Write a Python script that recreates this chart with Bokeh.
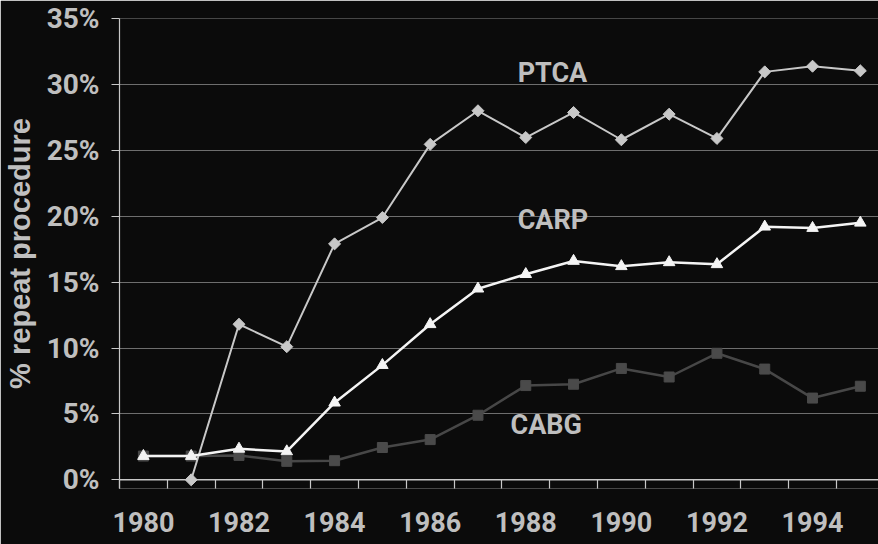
from bokeh.plotting import figure
from bokeh.models import FixedTicker, Range1d, Span, PrintfTickFormatter, ColumnDataSource
from bokeh.core.properties import value
from bokeh.embed import file_html
from bokeh.resources import INLINE

years = list(range(1980, 1996))
ptca_years = list(range(1981, 1996))
ptca = [0.0, 11.8, 10.1, 17.9, 19.9, 25.45, 28.0, 25.97, 27.87, 25.8, 27.74, 25.9, 30.95, 31.38, 31.03]
carp = [1.8, 1.8, 2.35, 2.15, 5.85, 8.7, 11.8, 14.5, 15.6, 16.6, 16.2, 16.5, 16.35, 19.2, 19.1, 19.5]
cabg = [1.8, 1.8, 1.85, 1.4, 1.45, 2.45, 3.05, 4.9, 7.15, 7.25, 8.45, 7.8, 9.6, 8.4, 6.2, 7.1]
series_labels = ["PTCA", "CARP", "CABG"]
label_x = [1987.83, 1987.83, 1987.68]
label_y = [30.83, 19.69, 4.16]
y_ticks = [0, 5, 10, 15, 20, 25, 30, 35]
x_label_years = [1980, 1982, 1984, 1986, 1988, 1990, 1992, 1994]
x_bound_ticks = [y - 0.5 for y in years]

BG = "#0b0b0b"
TXT = "#bfbfbf"
FONT = "Roboto"

p = figure(width=878, height=544, output_backend="svg", toolbar_location=None,
           x_range=Range1d(1979.5, 1995.38), y_range=Range1d(-0.66, 35),
           min_border_left=116, min_border_top=18, min_border_right=0, min_border_bottom=56,
           background_fill_color=BG, border_fill_color=BG, outline_line_color=None)

# grid
p.xgrid.visible = False
p.ygrid.ticker = FixedTicker(ticks=y_ticks[1:])
p.ygrid.grid_line_color = "#6e6e6e"
p.ygrid.grid_line_width = 1

# y axis
ya = p.yaxis[0]
ya.ticker = FixedTicker(ticks=y_ticks)
ya.formatter = PrintfTickFormatter(format="%d%%")
ya.axis_line_color = "#c8c8c8"
ya.axis_line_width = 1.2
ya.major_tick_line_color = "#c8c8c8"
ya.major_tick_out = 8
ya.major_tick_in = 0
ya.minor_tick_line_color = None
ya.major_label_standoff = 12
ya.major_label_text_font = FONT
ya.major_label_text_font_style = "bold"
ya.major_label_text_font_size = "28px"
ya.major_label_text_color = TXT
ya.axis_label = "% repeat procedure"
ya.axis_label_text_font = "Liberation Sans"
ya.axis_label_text_font_style = "bold"
ya.axis_label_text_font_size = "29px"
ya.axis_label_text_color = TXT
ya.axis_label_standoff = 8

# x axis at frame bottom; ticks rise to the 0% line
xa = p.xaxis[0]
xa.ticker = FixedTicker(ticks=x_label_years, minor_ticks=x_bound_ticks)
xa.axis_line_color = None
xa.major_tick_line_color = None
xa.minor_tick_line_color = "#c8c8c8"
xa.minor_tick_line_width = 1.2
xa.minor_tick_in = 9
xa.minor_tick_out = 0
xa.major_tick_in = 0
xa.major_tick_out = 0
xa.major_label_standoff = 23
xa.major_label_text_font = FONT
xa.major_label_text_font_style = "bold"
xa.major_label_text_font_size = "27px"
xa.major_label_text_color = TXT

# visible x axis line at 0%
p.add_layout(Span(location=0, dimension="width", line_color="#c8c8c8", line_width=1.5))

# series
p.line(years, cabg, line_color="#474747", line_width=2.5)
p.scatter(years, cabg, marker="square", size=10, fill_color="#4a4a4a", line_color="#4a4a4a")

p.line(ptca_years, ptca, line_color="#c8c8c8", line_width=2)
p.scatter(ptca_years, ptca, marker="square", angle=0.785, size=8.5, fill_color="#c8c8c8", line_color="#c8c8c8")

p.line(years, carp, line_color="#f4f4f4", line_width=2.5)
p.scatter(years, carp, marker="triangle", size=11.5, fill_color="#f4f4f4", line_color="#f4f4f4")

src = ColumnDataSource(dict(x=label_x, y=label_y, t=series_labels))
p.text(x="x", y="y", text="t", source=src, text_font=value(FONT), text_font_style="bold",
       text_font_size="27px", text_color=TXT, text_align="left", text_baseline="middle")

open("out.html", "w").write(file_html(p, INLINE))
